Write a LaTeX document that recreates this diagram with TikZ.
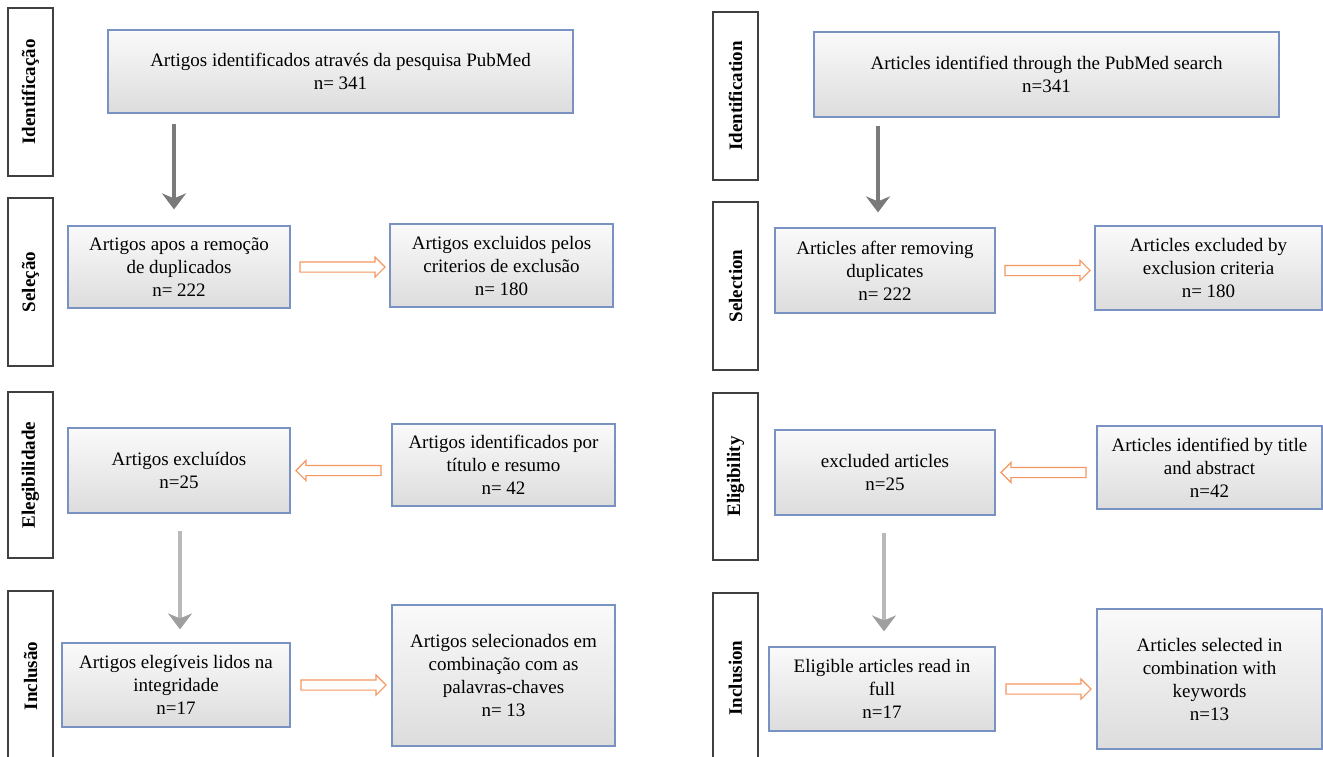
\documentclass[tikz,border=0pt]{standalone}
\usepackage{fontspec}
\setmainfont{Liberation Serif}
\usetikzlibrary{shapes.arrows,calc,arrows.meta}
\definecolor{boxline}{RGB}{122,146,194}
\definecolor{oline}{RGB}{246,150,96}
\definecolor{garrow}{RGB}{122,122,122}
\tikzset{
 flowbox/.style={draw=boxline, line width=1.2pt, top color=gray!4, bottom color=gray!27, align=center, inner sep=0pt, font=\fontsize{19}{23}\selectfont},
 phase/.style={draw=black!75, line width=1.6pt, fill=white, rotate=90, font=\bfseries\fontsize{19}{23}\selectfont, inner sep=0pt, minimum height=45pt},
 oarrow/.style={single arrow, draw=oline, line width=1.1pt, fill=white, inner sep=4.5pt, single arrow head extend=5pt, minimum height=85pt},
 garr/.style={draw=garrow, line width=4.5pt, -{Stealth[length=16pt,width=24pt,inset=5pt]}},
 garrlight/.style={draw=gray!55, line width=4.5pt, -{Stealth[length=16pt,width=24pt,inset=5pt,color=gray!75]}},
}
\begin{document}
\begin{tikzpicture}[x=1pt,y=-1pt]
\useasboundingbox (0,0) rectangle (1323,756);
% ---------------- left (Portuguese) ----------------
\node[phase, minimum width=168pt] (pl1) at (30.5,92) {Identificação};
\node[phase, minimum width=168pt] (pl2) at (30.5,282) {Seleção};
\node[phase, minimum width=166pt] (pl3) at (30.5,475) {Elegibilidade};
\node[phase, minimum width=170pt] (pl4) at (30.5,676) {Inclusão};

\node[flowbox, minimum width=465pt, minimum height=83pt] (ptop) at (340.5,71.5) {Artigos identificados através da pesquisa PubMed\\n= 341};
\node[flowbox, minimum width=222pt, minimum height=82pt] (psel1) at (179,267) {Artigos apos a remoção\\de duplicados\\n= 222};
\node[flowbox, minimum width=223pt, minimum height=83pt] (psel2) at (501.5,265.5) {Artigos excluidos pelos\\criterios de exclusão\\n= 180};
\node[flowbox, minimum width=222pt, minimum height=85pt] (pele1) at (179,470.5) {Artigos excluídos\\n=25};
\node[flowbox, minimum width=223pt, minimum height=82pt] (pele2) at (503.5,465) {Artigos identificados por\\título e resumo\\n= 42};
\node[flowbox, minimum width=228pt, minimum height=84pt] (pinc1) at (176,685) {Artigos elegíveis lidos na\\integridade\\n=17};
\node[flowbox, minimum width=223pt, minimum height=141pt] (pinc2) at (503.5,675.5) {Artigos selecionados em\\combinação com as\\palavras-chaves\\n= 13};

\draw[garr] ([xshift=-5pt,yshift=-10pt]psel1.north |- ptop.south) -- ([xshift=-5pt,yshift=16pt]psel1.north);
\draw[garrlight] ([xshift=1pt,yshift=-17pt]pele1.south) -- ([xshift=1pt,yshift=13pt]pele1.south |- pinc1.north);

\node[oarrow] (pa1) at ($(psel1.east)!0.5!(psel2.west |- psel1.east)$) {};
\node[oarrow, shape border rotate=180] (pa2) at ($(pele1.east)!0.5!(pele2.west |- pele1.east)$) {};
\node[oarrow] (pa3) at ($(pinc1.east)!0.5!(pinc2.west |- pinc1.east)$) {};

% ---------------- right (English) ----------------
\node[phase, minimum width=168pt] (el1) at (735.5,96) {Identification};
\node[phase, minimum width=168pt] (el2) at (735.5,286) {Selection};
\node[phase, minimum width=167pt] (el3) at (735.5,476.5) {Eligibility};
\node[phase, minimum width=170pt] (el4) at (735.5,678) {Inclusion};

\node[flowbox, minimum width=465pt, minimum height=85pt] (etop) at (1046.5,74.5) {Articles identified through the PubMed search\\n=341};
\node[flowbox, minimum width=220pt, minimum height=85pt] (esel1) at (885,270.5) {Articles after removing\\duplicates\\n= 222};
\node[flowbox, minimum width=227pt, minimum height=84pt] (esel2) at (1208.5,268) {Articles excluded by\\exclusion criteria\\n= 180};
\node[flowbox, minimum width=220pt, minimum height=85pt] (eele1) at (885,472.5) {excluded articles\\n=25};
\node[flowbox, minimum width=225pt, minimum height=83pt] (eele2) at (1209.5,467.5) {Articles identified by title\\and abstract\\n=42};
\node[flowbox, minimum width=226pt, minimum height=84pt] (einc1) at (882,689) {Eligible articles read in\\full\\n=17};
\node[flowbox, minimum width=225pt, minimum height=140pt] (einc2) at (1209.5,679) {Articles selected in\\combination with\\keywords\\n=13};

\draw[garr] ([xshift=-7pt,yshift=-8pt]esel1.north |- etop.south) -- ([xshift=-7pt,yshift=15pt]esel1.north);
\draw[garrlight] ([xshift=-1pt,yshift=-17pt]eele1.south) -- ([xshift=-1pt,yshift=15pt]eele1.south |- einc1.north);

\node[oarrow] (ea1) at ($(esel1.east)!0.5!(esel2.west |- esel1.east)$) {};
\node[oarrow, shape border rotate=180] (ea2) at ($(eele1.east)!0.5!(eele2.west |- eele1.east)$) {};
\node[oarrow] (ea3) at ($(einc1.east)!0.5!(einc2.west |- einc1.east)$) {};
\end{tikzpicture}
\end{document}
